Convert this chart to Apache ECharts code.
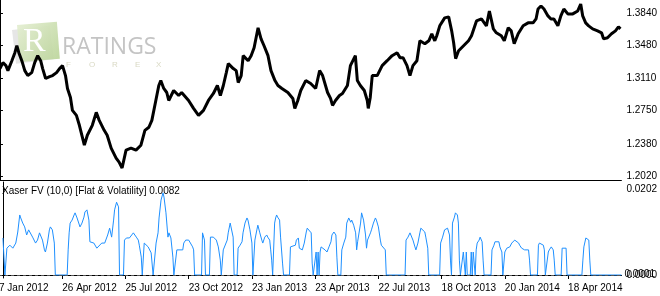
<!DOCTYPE html>
<html><head><meta charset="utf-8">
<script src="https://cdn.jsdelivr.net/npm/echarts@6/dist/echarts.min.js"></script>
<style>html,body{margin:0;padding:0;background:#fff;overflow:hidden}#c{position:absolute;left:-4px;top:0;width:664px;height:296px}</style>
</head><body><div id="c"></div>
<script>
// bar index (1 px per daily bar) and close price
const pricePoints = [[0,1.3219],[3,1.3285],[6,1.3252],[8,1.3196],[12,1.3307],[15,1.3396],[17,1.3474],[19,1.3396],[22,1.3307],[25,1.3196],[28,1.3141],[32,1.3174],[35,1.3285],[38,1.3363],[41,1.3307],[43,1.3219],[46,1.3108],[50,1.3130],[53,1.3141],[57,1.3174],[60,1.3219],[63,1.3252],[66,1.3141],[68,1.2997],[71,1.2897],[73,1.2752],[77,1.2697],[80,1.2586],[85,1.2364],[88,1.2475],[93,1.2586],[97,1.2730],[100,1.2641],[105,1.2530],[108,1.2475],[112,1.2331],[117,1.2220],[120,1.2175],[123,1.2109],[127,1.2309],[132,1.2331],[137,1.2309],[142,1.2364],[146,1.2530],[150,1.2564],[153,1.2641],[157,1.2863],[160,1.3030],[162,1.3085],[165,1.2997],[168,1.2952],[170,1.2863],[175,1.2974],[180,1.2919],[183,1.2952],[190,1.2863],[195,1.2775],[200,1.2697],[205,1.2752],[210,1.2863],[215,1.2941],[219,1.3030],[222,1.2919],[225,1.3030],[228,1.3174],[230,1.3274],[235,1.3219],[238,1.3196],[240,1.3063],[243,1.3141],[245,1.3363],[250,1.3307],[253,1.3363],[256,1.3452],[258,1.3563],[260,1.3674],[263,1.3551],[266,1.3474],[270,1.3363],[273,1.3196],[277,1.3085],[280,1.3030],[284,1.2997],[290,1.2952],[295,1.2886],[297,1.2775],[300,1.2863],[303,1.2974],[308,1.3085],[313,1.3052],[318,1.2997],[322,1.3196],[325,1.3141],[330,1.2952],[333,1.2886],[335,1.2808],[338,1.2863],[342,1.2919],[345,1.2941],[350,1.3030],[353,1.3252],[355,1.3274],[358,1.3363],[360,1.3085],[363,1.3030],[367,1.2974],[370,1.2863],[371,1.2775],[373,1.2897],[375,1.3141],[380,1.3141],[385,1.3252],[390,1.3307],[395,1.3363],[400,1.3396],[403,1.3341],[406,1.3341],[410,1.3252],[413,1.3141],[416,1.3252],[420,1.3307],[423,1.3529],[428,1.3496],[432,1.3529],[435,1.3607],[438,1.3529],[440,1.3585],[443,1.3696],[448,1.3785],[452,1.3796],[455,1.3640],[457,1.3507],[459,1.3330],[462,1.3418],[467,1.3474],[472,1.3529],[475,1.3585],[480,1.3751],[485,1.3773],[490,1.3696],[493,1.3862],[497,1.3662],[500,1.3618],[505,1.3585],[508,1.3529],[512,1.3674],[515,1.3640],[518,1.3496],[522,1.3607],[527,1.3696],[532,1.3729],[537,1.3729],[540,1.3773],[542,1.3884],[545,1.3918],[548,1.3884],[552,1.3807],[555,1.3773],[558,1.3773],[562,1.3696],[565,1.3807],[568,1.3884],[572,1.3829],[577,1.3829],[582,1.3862],[585,1.3940],[587,1.3807],[590,1.3729],[593,1.3696],[597,1.3662],[602,1.3640],[606,1.3618],[608,1.3551],[612,1.3563],[616,1.3607],[620,1.3640],[623,1.3685],[625,1.3662]];

// Xaser FV indicator: bar index, value
const fvPoints = [[0,0.0087],[1,0.0087],[2,0],[3,0],[4,0.0063],[7,0.0070],[10,0.0063],[13,0.0075],[15,0.0101],[17,0.0141],[18,0.0134],[20,0.0122],[22,0.0113],[24,0.0094],[26,0.0106],[28,0.0110],[30,0.0089],[33,0.0075],[35,0.0082],[37,0.0099],[38,0.0101],[40,0.0082],[42,0.0059],[43,0.0054],[45,0.0075],[47,0.0106],[48,0.0113],[50,0.0106],[52,0.0075],[53,0],[65,0],[66,0.0059],[67,0.0099],[68,0.0122],[70,0.0129],[72,0.0141],[73,0.0146],[75,0.0134],[77,0.0136],[78,0.0113],[80,0.0122],[82,0.0136],[83,0.0148],[85,0.0153],[87,0.0129],[88,0.0078],[89,0.0082],[92,0.0075],[95,0.0063],[97,0.0059],[100,0.0075],[103,0.0075],[106,0.0094],[108,0.0110],[110,0.0089],[112,0.0129],[113,0.0153],[115,0.0171],[117,0.0160],[118,0],[122,0],[123,0.0082],[125,0.0087],[128,0.0087],[132,0.0099],[133,0.0101],[135,0.0089],[137,0.0082],[138,0.0070],[140,0.0042],[141,0],[142,0],[143,0.0075],[147,0.0066],[150,0.0052],[151,0.0048],[152,0],[154,0],[155,0.0075],[157,0.0099],[158,0.0134],[160,0.0176],[162,0.0193],[163,0.0183],[165,0.0146],[167,0.0089],[168,0.0099],[170,0.0087],[172,0.0042],[173,0],[175,0],[176,0.0059],[178,0.0059],[182,0.0059],[183,0.0075],[185,0.0082],[188,0.0082],[192,0.0066],[193,0.0059],[194,0],[201,0],[202,0.0099],[203,0.0099],[204,0.0082],[205,0],[209,0],[210,0.0089],[213,0.0089],[216,0.0082],[218,0.0066],[220,0.0035],[221,0],[222,0],[223,0.0059],[225,0.0059],[227,0.0082],[228,0.0099],[230,0.0122],[232,0.0122],[233,0.0089],[234,0],[237,0],[238,0.0063],[240,0.0070],[242,0.0078],[243,0.0099],[245,0.0122],[247,0.0134],[248,0.0129],[250,0.0106],[252,0.0075],[253,0],[254,0],[255,0.0082],[257,0.0106],[258,0.0117],[260,0.0099],[262,0.0082],[263,0.0075],[265,0.0089],[267,0.0094],[268,0.0089],[270,0.0082],[271,0.0059],[272,0.0035],[273,0],[274,0],[275,0.0122],[276,0.0134],[277,0.0141],[278,0.0136],[280,0.0129],[281,0.0089],[283,0.0028],[284,0],[290,0],[291,0.0066],[293,0.0066],[296,0.0070],[297,0.0082],[299,0.0087],[300,0.0063],[302,0.0066],[303,0.0059],[305,0.0075],[307,0.0101],[308,0.0110],[310,0.0113],[312,0.0099],[313,0.0028],[314,0],[316,0],[317,0.0054],[318,0],[319,0.0054],[320,0],[321,0.0054],[322,0.0066],[324,0.0063],[326,0.0059],[328,0.0054],[330,0.0066],[332,0.0078],[333,0.0094],[335,0.0101],[337,0.0094],[338,0.0042],[339,0],[342,0],[343,0.0059],[345,0.0075],[347,0.0089],[348,0.0122],[350,0.0134],[352,0.0124],[353,0.0129],[355,0.0117],[357,0.0099],[358,0.0059],[359,0.0078],[360,0.0075],[362,0.0122],[363,0.0146],[365,0.0129],[367,0.0094],[368,0.0063],[369,0.0082],[372,0.0099],[373,0.0106],[375,0.0122],[377,0.0134],[378,0.0129],[380,0.0113],[382,0.0082],[383,0.0070],[385,0.0066],[387,0.0059],[388,0],[407,0],[408,0.0082],[410,0.0089],[412,0.0099],[413,0.0099],[415,0.0082],[417,0.0066],[418,0.0059],[420,0.0075],[422,0.0099],[423,0.0110],[425,0.0110],[427,0.0101],[428,0.0089],[430,0.0063],[431,0],[442,0],[443,0.0075],[445,0.0089],[447,0.0106],[448,0.0110],[450,0.0110],[452,0.0094],[453,0.0035],[454,0],[455,0.0122],[457,0.0136],[458,0.0146],[460,0.0141],[461,0.0122],[462,0.0035],[463,0],[465,0],[466,0.0054],[467,0.0054],[468,0],[469,0.0054],[470,0],[473,0],[474,0.0054],[475,0],[476,0.0054],[477,0.0054],[478,0],[479,0.0059],[480,0.0075],[482,0.0082],[483,0.0089],[485,0.0078],[486,0.0035],[487,0],[494,0],[495,0.0059],[497,0.0070],[498,0.0078],[500,0.0080],[502,0.0078],[503,0.0066],[505,0.0054],[506,0],[507,0],[508,0.0054],[510,0.0063],[512,0.0066],[513,0.0066],[515,0.0075],[517,0.0078],[518,0.0082],[520,0.0085],[522,0.0075],[523,0.0070],[525,0.0063],[527,0.0066],[528,0.0059],[530,0.0063],[532,0.0059],[533,0.0035],[534,0],[541,0],[542,0.0070],[543,0.0075],[545,0.0075],[547,0.0070],[548,0.0059],[549,0],[551,0],[552,0.0054],[553,0.0059],[555,0.0066],[557,0.0059],[558,0.0035],[559,0],[565,0],[566,0.0063],[568,0.0066],[570,0.0063],[571,0],[586,0],[587,0.0035],[588,0.0066],[590,0.0087],[592,0.0089],[593,0.0082],[594,0.0035],[595,0],[626,0]];

const dateTickIdx = [-4, 60, 124, 188, 252, 316, 380, 444, 508, 572];
const dateTickLabels = ["7 Jan 2012","26 Apr 2012","25 Jul 2012","23 Oct 2012","23 Jan 2013","23 Apr 2013","22 Jul 2013","18 Oct 2013","20 Jan 2014","18 Apr 2014"];
const priceTicks = [1.2020, 1.2380, 1.2750, 1.3110, 1.3480, 1.3840];
const fvTicks = [0.0000, 0.0202];
const fvLevelTicks = [0.0001];
const indicatorTitle = "Xaser FV (10,0) [Flat & Volatility] 0.0082";

const FONT = '"Liberation Sans", Arial, sans-serif';
const FS = 10;
const OX = 4; // container is shifted 4px left
const chart = echarts.init(document.getElementById('c'), null, {renderer: 'canvas'});

chart.setOption({
  animation: false,
  backgroundColor: '#fff',
  title: {text: indicatorTitle, left: 2 + OX, top: 186, padding: 0,
    textStyle: {fontFamily: FONT, fontSize: FS, fontWeight: 'normal', color: '#000'}},
  graphic: [
    {type: 'rect', z: 0, rotation: 0.12, x: 12 + OX, y: 30, shape: {x: 0, y: 0, width: 38, height: 34},
      style: {fill: 'rgba(200,200,200,0.45)'}},
    {type: 'rect', z: 0, rotation: 0.08, x: 17 + OX, y: 25, shape: {x: 0, y: 0, width: 40, height: 37},
      style: {fill: new echarts.graphic.LinearGradient(0, 0, 1, 1, [{offset: 0, color: 'rgba(228,238,210,0.95)'}, {offset: 1, color: 'rgba(186,212,152,0.9)'}])}},
    {type: 'text', z: 0, x: 23 + OX, y: 25, style: {text: 'R', fill: '#ffffff', font: '34px "Liberation Serif", serif'}},
    {type: 'text', z: 0, x: 62 + OX, y: 36, style: {text: 'RATINGS', fill: '#c4c4c4', font: '23px "Open Sans", "Liberation Sans", sans-serif'}},
    {type: 'text', z: 0, x: 66 + OX, y: 61, style: {text: 'F', fill: '#d9d9c4', font: '8px "Liberation Sans", sans-serif'}},
    {type: 'text', z: 0, x: 89 + OX, y: 61, style: {text: 'O', fill: '#d9d9c4', font: '8px "Liberation Sans", sans-serif'}},
    {type: 'text', z: 0, x: 112 + OX, y: 61, style: {text: 'R', fill: '#d9d9c4', font: '8px "Liberation Sans", sans-serif'}},
    {type: 'text', z: 0, x: 135 + OX, y: 61, style: {text: 'E', fill: '#d9d9c4', font: '8px "Liberation Sans", sans-serif'}},
    {type: 'text', z: 0, x: 156 + OX, y: 61, style: {text: 'X', fill: '#d9d9c4', font: '8px "Liberation Sans", sans-serif'}}
  ],
  grid: [
    {left: 0, right: 34, top: -1, height: 181, containLabel: false},
    {left: 0, right: 34, top: 182, height: 96, containLabel: false}
  ],
  xAxis: [
    {type: 'value', gridIndex: 0, min: -4, max: 626, position: 'bottom',
      axisLine: {show: true, lineStyle: {color: '#000', width: 1}}, axisTick: {show: false},
      axisLabel: {show: false}, splitLine: {show: false}},
    {type: 'value', gridIndex: 1, min: -4, max: 626, position: 'bottom',
      axisLine: {show: true, lineStyle: {color: '#000', width: 1}},
      axisTick: {show: true, customValues: dateTickIdx, length: 4, lineStyle: {color: '#000'}},
      axisLabel: {show: true, customValues: dateTickIdx, align: 'left', margin: 5, color: '#000',
        fontFamily: FONT, fontSize: FS,
        formatter: v => dateTickLabels[dateTickIdx.indexOf(v)] || ''},
      splitLine: {show: false}},
    {type: 'value', gridIndex: 1, min: -4, max: 626, position: 'top',
      axisLine: {show: true, lineStyle: {color: '#000', width: 1}}, axisTick: {show: false},
      axisLabel: {show: false}, splitLine: {show: false}}
  ],
  yAxis: [
    {type: 'value', gridIndex: 0, position: 'right', min: 1.197554, max: 1.398427,
      axisLine: {show: true, lineStyle: {color: '#000'}},
      axisTick: {show: true, customValues: priceTicks, length: 3, lineStyle: {color: '#000'}},
      axisLabel: {show: true, customValues: priceTicks, margin: 5, color: '#000', fontFamily: FONT, fontSize: FS,
        formatter: v => v.toFixed(4)},
      splitLine: {show: false}},
    {type: 'value', gridIndex: 1, position: 'right', min: -0.000705, max: 0.021846,
      axisLine: {show: true, lineStyle: {color: '#000'}},
      axisTick: {show: true, customValues: fvTicks, length: 3, lineStyle: {color: '#000'}},
      axisLabel: {show: true, customValues: fvTicks, margin: 5, color: '#000', fontFamily: FONT, fontSize: FS,
        formatter: v => v.toFixed(4)},
      splitLine: {show: false}},
    {type: 'value', gridIndex: 1, position: 'right', min: -0.000705, max: 0.021846,
      axisLine: {show: false}, axisTick: {show: false},
      axisLabel: {show: true, customValues: fvLevelTicks, margin: 3, color: '#000', fontFamily: FONT, fontSize: FS,
        formatter: v => v.toFixed(4)},
      splitLine: {show: false}}
  ],
  series: [
    {type: 'line', xAxisIndex: 0, yAxisIndex: 0, data: pricePoints, symbol: 'none',
      lineStyle: {color: '#000', width: 3}, z: 3},
    {type: 'line', xAxisIndex: 1, yAxisIndex: 1, data: fvPoints, symbol: 'none',
      lineStyle: {color: '#1e90ff', width: 1}, z: 3,
      markLine: {silent: true, symbol: 'none', label: {show: false},
        lineStyle: {color: '#555', type: [3, 3], width: 1},
        data: [{yAxis: 0}]}}
  ]
});
</script></body></html>
